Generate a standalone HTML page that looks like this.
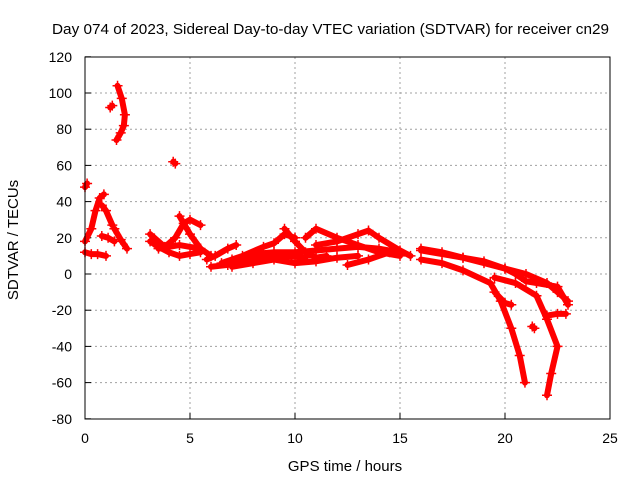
<!DOCTYPE html>
<html><head><meta charset="utf-8"><style>
body{margin:0;background:#fff}
svg{display:block;font-family:"Liberation Sans",sans-serif}
</style></head><body>
<svg id="chart" width="640" height="480" viewBox="0 0 640 480">
<rect width="640" height="480" fill="#fff"/>
<text x="52" y="34" font-size="15" textLength="557" lengthAdjust="spacingAndGlyphs">Day 074 of 2023, Sidereal Day-to-day VTEC variation (SDTVAR) for receiver cn29</text>
<g id="grid"></g>
<g id="ticks"></g>
<g id="series"></g>
<rect x="85" y="57" width="525" height="362" fill="none" stroke="#000" stroke-width="1"/>
<text x="345" y="471" font-size="15" text-anchor="middle">GPS time / hours</text>
<text transform="translate(18,240) rotate(-90)" font-size="15" text-anchor="middle">SDTVAR / TECUs</text>
</svg>
<script>
const xTicks=[0,5,10,15,20,25];
const yTicks=[-80,-60,-40,-20,0,20,40,60,80,100,120];
const trackTimes=[
[0,0.1],
[0,0.3,0.5,0.7,0.9],
[0.8,1.0,1.3],
[0,0.3,0.6,1.0],
[0.8,1.1,1.4],
[1.4,1.7,2.0],
[1.55,1.75,1.9,1.85,1.7,1.5],
[1.2,1.3],
[4.2,4.3],
[3.1,3.5,4.0,4.5,5.0,5.5],
[3.1,3.8,4.3,4.7,5.0,5.5],
[4.5,5.0,5.5,6.0],
[3.5,4.5,5.5],
[5.8,6.2,6.8,7.2],
[6.0,6.8,7.5,8.5,9.5,10.5],
[6.5,7.5,8.5,9.0,9.5,10.0],
[7.0,8.0,9.0,10,11,12,13,14,15],
[9.5,10,10.5,11,11.5],
[10.5,11,12,13,14,15],
[11,12,13,13.5,14,15,15.5],
[12.5,13.5,14.5],
[7,8,9,10,11,12,13],
[16,17,18,19,20,20.5,21,21.5,22.5,23],
[16,17,18,19,20,21,22,22.5,23],
[16,17,18,19.3,19.8,20.3,20.7,20.95],
[19.5,20.5,21.5,22.0,22.5,22.2,22.0],
[19.5,20.0,20.3],
[22,22.5,22.9],
[21.3,21.4]
];
const trackValues=[
[48,50],
[18,25,35,42,44],
[38,35,27],
[12,11,11,10],
[21,20,18],
[25,19,14],
[104,97,88,82,78,74],
[92,93],
[62,61],
[18,15,12,10,11,12],
[22,15,20,28,30,27],
[32,22,14,10],
[14,16,14],
[8,10,14,16],
[4,5,7,9,10,9],
[6,10,15,17,22,20],
[8,11,12,12,13,14,15,14,12],
[25,18,12,9,10],
[20,25,20,16,12,10],
[16,18,22,24,20,13,10],
[5,8,12],
[4,6,8,6,7,9,10],
[13,11,9,7,3,0,-4,-5,-7,-17],
[14,12,9,6,3,0,-5,-10,-15],
[8,6,2,-5,-15,-30,-45,-60],
[-2,-5,-12,-25,-40,-55,-67],
[-10,-16,-17],
[-23,-22,-22],
[-29,-30]
];
const X=t=>85+t*21;
const Y=v=>274-v*1.81;
const NS='http://www.w3.org/2000/svg';
const grid=document.getElementById('grid'),ticks=document.getElementById('ticks'),series=document.getElementById('series');
function mk(tag,attrs,parent){const e=document.createElementNS(NS,tag);for(const k in attrs)e.setAttribute(k,attrs[k]);parent.appendChild(e);return e;}
xTicks.forEach(t=>{
  if(t>0&&t<25){const g=mk('line',{x1:X(t),x2:X(t),y1:57,y2:419,stroke:'#a0a0a0','stroke-dasharray':'2,3'},grid);
  
  }
  const tk=mk('line',{x1:X(t),x2:X(t),y1:419,y2:413,stroke:'#000'},ticks);
  
  
  const tl=mk('text',{x:X(t),y:443,'font-size':14,'text-anchor':'middle'},ticks);tl.textContent=t;
  
  
});
yTicks.forEach(v=>{
  if(v>-80&&v<120){const g=mk('line',{x1:85,x2:610,y1:Y(v),y2:Y(v),stroke:'#a0a0a0','stroke-dasharray':'2,3'},grid);
  
  }
  const tk=mk('line',{x1:85,x2:91,y1:Y(v),y2:Y(v),stroke:'#000'},ticks);
  
  
  const tl=mk('text',{x:72,y:Y(v)+5,'font-size':14,'text-anchor':'end'},ticks);tl.textContent=v;
  
  
});
trackTimes.forEach((ts,i)=>{
  const vs=trackValues[i];
  const pts=ts.map((t,j)=>X(t)+','+Y(vs[j])).join(' ');
  const pl=mk('polyline',{points:pts,fill:'none',stroke:'#ff0000','stroke-width':6,'stroke-linejoin':'round','stroke-linecap':'round'},series);
  
  
  ts.forEach((t,j)=>{
    const p=mk('path',{d:`M${X(t)-5},${Y(vs[j])}h10M${X(t)},${Y(vs[j])-5}v10`,stroke:'#ff0000','stroke-width':1.5},series);
    
    
  });
});
</script>
</body></html>
